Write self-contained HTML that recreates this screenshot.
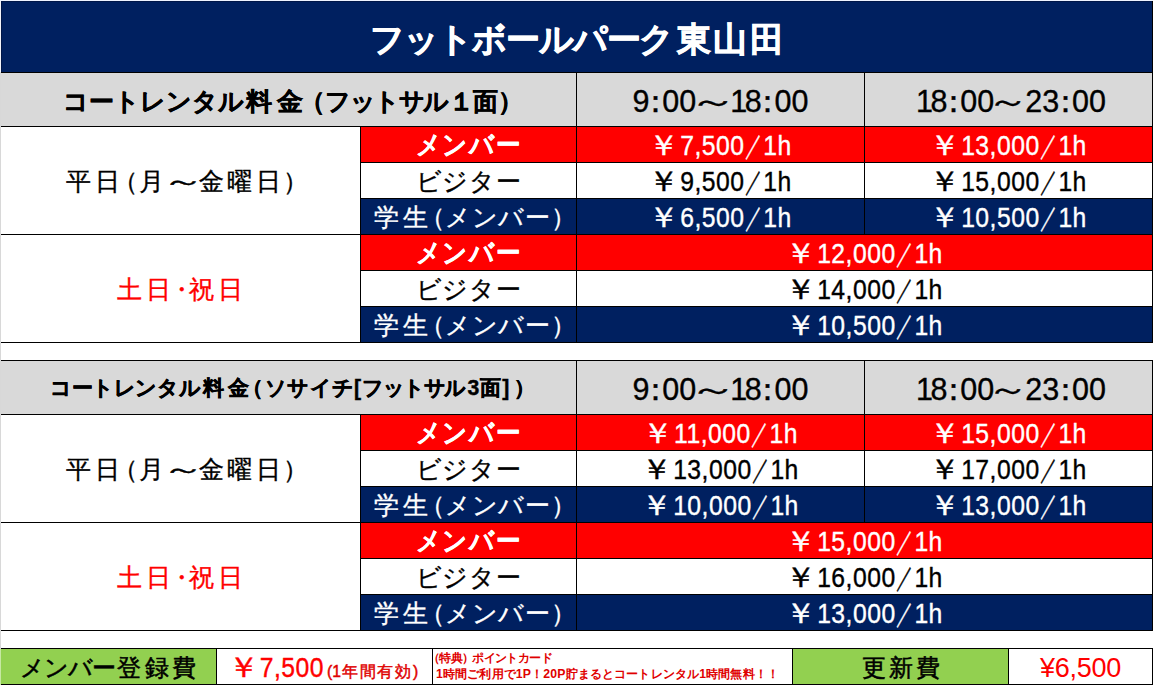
<!DOCTYPE html>
<html lang="ja">
<head>
<meta charset="utf-8">
<title>フットボールパーク東山田 料金表</title>
<style>
html,body{margin:0;padding:0}
body{width:1153px;height:685px;overflow:hidden;background:#fff;position:relative;
 font-family:"Liberation Sans",sans-serif;}
.grid{position:absolute;background:#000}
.gl{position:absolute;left:0;top:0;width:1px;height:685px;background:linear-gradient(#f4f4fa 0,#f4f4fa 72px,#d8d8d8 72px,#d8d8d8 649px,#c6e8a2 649px)}
.tl{position:absolute;left:0;top:0;width:1153px;height:1px;background:#eef3ff}
.c{position:absolute;box-sizing:border-box;overflow:hidden;white-space:nowrap}
.t{display:flex;align-items:center;justify-content:center;font-size:24.7px;line-height:1}
.x{display:block;position:relative}
.x span{display:inline-block}
.title{font-size:33.8px;font-weight:bold;border-top:1px solid #001648;border-left:1px solid #001648}
.head1{font-weight:bold}
.head2{font-weight:bold;font-size:21.2px}
.b{font-weight:bold}
.time{font-size:30.5px}
.foot{font-size:24.4px}
.fee .sm{font-size:15.7px;color:#e00000;position:relative}
.fee2{font-size:27px}
.note{font-size:12.25px;font-weight:bold;line-height:16px;padding:.5px 0 0 3px}
.po{margin-left:-11px}
.pc{margin-right:-11px}
.t>.x{-webkit-text-stroke:.35px}
.title>.x{left:0px;top:3px;-webkit-text-stroke:.7px}
.title .a{letter-spacing:-1.1px}
.title .k{letter-spacing:2.4px;margin-left:3.6px;margin-right:-2.4px}
.head1>.x{left:-1.5px;top:2.5px;-webkit-text-stroke:.45px}
.head1 .a{letter-spacing:0px}
.head1 .k{letter-spacing:5px;margin-left:3.2px;transform:scaleX(1.04)}
.head1 .po{margin-left:-6.7px}
.head1 .a3{letter-spacing:-1.5px}
.head1 .n{margin:0 -3px 0 1px}
.head1 .k2{margin:0 -1px 0 2px}
.head1 .pc{margin-left:1px}
.head2>.x{left:-1.4px;top:0.5px;-webkit-text-stroke:.45px}
.head2 .a{letter-spacing:-.4px}
.head2 .a2{letter-spacing:.2px;margin-left:2px}
.head2 .a3{letter-spacing:-1.5px}
.head2 .k{letter-spacing:4px;margin-left:3px}
.head2 .k2{margin:0 1px}
.head2 .br{margin-right:1.2px}
.head2 .n{margin-left:2.8px}
.head2 .pc{margin-left:3.6px}
.time>.x{left:0;top:2px;letter-spacing:0px}
.time .co{margin:0 -8.8px 0 -9.3px}
.time .o{margin:0 -2.5px 0 -1px}
.time .w{transform:scaleX(1.55);margin:0 2px}
.time2>.x{left:3px}
.time2 .w{margin-left:-2px;transform:scaleX(1.35)}
.day>.x{left:.5px;top:2px}
.day .k{letter-spacing:3.8px;margin-left:1.5px}
.day .w{transform:scaleX(1.7);margin:0 1px 0 3px}
.day .pc{margin-left:-1.5px}
.day .dot{margin:0 -6px}
.lab>.x{left:0;top:1.5px}
.lab3>.x{left:1px}
.lab.b>.x{-webkit-text-stroke:.1px}
.lab .a{letter-spacing:.6px}
.lab.b .a{transform:scaleY(1.1);position:relative;top:-1px}
.lab .k{letter-spacing:3.3px}
.pr>.x{left:1px;top:1.5px;transform:scaleY(1.13);letter-spacing:.5px}
.y{transform:scaleX(1.25);margin-right:3.5px}
.sl{transform:scaleX(.7);margin:0 -3.4px}
.foot>.x{left:1.3px;top:1.5px;-webkit-text-stroke:.5px}
.foot .a{letter-spacing:-1px}
.foot .k{letter-spacing:3.2px;margin-left:2px}
.fee>.x{left:0;top:1.5px}
.fee .big{transform:scaleY(1.13);letter-spacing:.5px;position:relative;top:.7px}
.fee .sm{top:1px;margin-left:3px;-webkit-text-stroke:.45px}
.fee .sm .k{letter-spacing:1.8px;margin-left:1px}
.fee2>.x{left:0;top:2px;letter-spacing:-.3px;-webkit-text-stroke:0}
.note .l1{letter-spacing:-.6px}
.note .p1{margin-left:-8px}
.note .p2{margin-right:-1.5px}
.note .l2{letter-spacing:.15px}
</style>
</head>
<body>
<div class="gl"></div>
<div class="tl"></div>
<div class="grid" style="left:1px;top:1px;width:1152px;height:342px"></div>
<div class="grid" style="left:1px;top:360px;width:1152px;height:271px"></div>
<div class="grid" style="left:1px;top:648px;width:1152px;height:37px"></div>
<div class="c t title" style="left:1px;top:1px;width:1151px;height:71px;background:#002060;color:#fff;"><div class="x"><span class="a">フットボールパーク</span><span class="k">東山田</span></div></div>
<div class="c t head1" style="left:1px;top:73px;width:575px;height:53px;background:#d9d9d9;color:#000;"><div class="x"><span class="a">コートレンタル</span><span class="k">料金</span><span class="po">（</span><span class="a3">フットサル</span><span class="n">１</span><span class="k2">面</span><span class="pc">）</span></div></div>
<div class="c t time" style="left:577px;top:73px;width:287px;height:53px;background:#d9d9d9;color:#000;"><div class="x">9<span class="co">：</span>00<span class="w">～</span><span class="o">1</span>8<span class="co">：</span>00</div></div>
<div class="c t time time2" style="left:865px;top:73px;width:287px;height:53px;background:#d9d9d9;color:#000;"><div class="x"><span class="o">1</span>8<span class="co">：</span>00<span class="w">～</span>23<span class="co">：</span>00</div></div>
<div class="c t day" style="left:1px;top:127px;width:359px;height:107px;background:#ffffff;color:#000;"><div class="x"><span class="k">平日</span><span class="po">（</span><span class="k">月</span><span class="w">～</span><span class="k">金曜日</span><span class="pc">）</span></div></div>
<div class="c t lab b" style="left:361px;top:127px;width:215px;height:35px;background:#ff0000;color:#fff;"><div class="x"><span class="a">メンバー</span></div></div>
<div class="c t pr" style="left:577px;top:127px;width:287px;height:35px;background:#ff0000;color:#fff;"><div class="x"><span class="y">￥</span>7,500<span class="sl">／</span>1h</div></div>
<div class="c t pr" style="left:865px;top:127px;width:287px;height:35px;background:#ff0000;color:#fff;"><div class="x"><span class="y">￥</span>13,000<span class="sl">／</span>1h</div></div>
<div class="c t lab" style="left:361px;top:163px;width:215px;height:35px;background:#ffffff;color:#000;"><div class="x"><span class="a">ビジター</span></div></div>
<div class="c t pr" style="left:577px;top:163px;width:287px;height:35px;background:#ffffff;color:#000;"><div class="x"><span class="y">￥</span>9,500<span class="sl">／</span>1h</div></div>
<div class="c t pr" style="left:865px;top:163px;width:287px;height:35px;background:#ffffff;color:#000;"><div class="x"><span class="y">￥</span>15,000<span class="sl">／</span>1h</div></div>
<div class="c t lab lab3" style="left:361px;top:199px;width:215px;height:35px;background:#002060;color:#fff;"><div class="x"><span class="k">学生</span><span class="po">（</span><span class="a">メンバー</span><span class="pc">）</span></div></div>
<div class="c t pr" style="left:577px;top:199px;width:287px;height:35px;background:#002060;color:#fff;"><div class="x"><span class="y">￥</span>6,500<span class="sl">／</span>1h</div></div>
<div class="c t pr" style="left:865px;top:199px;width:287px;height:35px;background:#002060;color:#fff;"><div class="x"><span class="y">￥</span>10,500<span class="sl">／</span>1h</div></div>
<div class="c t day" style="left:1px;top:235px;width:359px;height:107px;background:#ffffff;color:#ff0000;"><div class="x"><span class="k">土日</span><span class="dot">・</span><span class="k">祝日</span></div></div>
<div class="c t lab b" style="left:361px;top:235px;width:215px;height:35px;background:#ff0000;color:#fff;"><div class="x"><span class="a">メンバー</span></div></div>
<div class="c t pr" style="left:577px;top:235px;width:575px;height:35px;background:#ff0000;color:#fff;"><div class="x"><span class="y">￥</span>12,000<span class="sl">／</span>1h</div></div>
<div class="c t lab" style="left:361px;top:271px;width:215px;height:35px;background:#ffffff;color:#000;"><div class="x"><span class="a">ビジター</span></div></div>
<div class="c t pr" style="left:577px;top:271px;width:575px;height:35px;background:#ffffff;color:#000;"><div class="x"><span class="y">￥</span>14,000<span class="sl">／</span>1h</div></div>
<div class="c t lab lab3" style="left:361px;top:307px;width:215px;height:35px;background:#002060;color:#fff;"><div class="x"><span class="k">学生</span><span class="po">（</span><span class="a">メンバー</span><span class="pc">）</span></div></div>
<div class="c t pr" style="left:577px;top:307px;width:575px;height:35px;background:#002060;color:#fff;"><div class="x"><span class="y">￥</span>10,500<span class="sl">／</span>1h</div></div>
<div class="c t head2" style="left:1px;top:361px;width:575px;height:53px;background:#d9d9d9;color:#000;"><div class="x"><span class="a">コートレンタル</span><span class="k">料金</span><span class="po">（</span><span class="a2">ソサイチ</span><span class="br">[</span><span class="a3">フットサル</span><span class="n">3</span><span class="k2">面</span><span class="br">]</span><span class="pc">）</span></div></div>
<div class="c t time" style="left:577px;top:361px;width:287px;height:53px;background:#d9d9d9;color:#000;"><div class="x">9<span class="co">：</span>00<span class="w">～</span><span class="o">1</span>8<span class="co">：</span>00</div></div>
<div class="c t time time2" style="left:865px;top:361px;width:287px;height:53px;background:#d9d9d9;color:#000;"><div class="x"><span class="o">1</span>8<span class="co">：</span>00<span class="w">～</span>23<span class="co">：</span>00</div></div>
<div class="c t day" style="left:1px;top:415px;width:359px;height:107px;background:#ffffff;color:#000;"><div class="x"><span class="k">平日</span><span class="po">（</span><span class="k">月</span><span class="w">～</span><span class="k">金曜日</span><span class="pc">）</span></div></div>
<div class="c t lab b" style="left:361px;top:415px;width:215px;height:35px;background:#ff0000;color:#fff;"><div class="x"><span class="a">メンバー</span></div></div>
<div class="c t pr" style="left:577px;top:415px;width:287px;height:35px;background:#ff0000;color:#fff;"><div class="x"><span class="y">￥</span>11,000<span class="sl">／</span>1h</div></div>
<div class="c t pr" style="left:865px;top:415px;width:287px;height:35px;background:#ff0000;color:#fff;"><div class="x"><span class="y">￥</span>15,000<span class="sl">／</span>1h</div></div>
<div class="c t lab" style="left:361px;top:451px;width:215px;height:35px;background:#ffffff;color:#000;"><div class="x"><span class="a">ビジター</span></div></div>
<div class="c t pr" style="left:577px;top:451px;width:287px;height:35px;background:#ffffff;color:#000;"><div class="x"><span class="y">￥</span>13,000<span class="sl">／</span>1h</div></div>
<div class="c t pr" style="left:865px;top:451px;width:287px;height:35px;background:#ffffff;color:#000;"><div class="x"><span class="y">￥</span>17,000<span class="sl">／</span>1h</div></div>
<div class="c t lab lab3" style="left:361px;top:487px;width:215px;height:35px;background:#002060;color:#fff;"><div class="x"><span class="k">学生</span><span class="po">（</span><span class="a">メンバー</span><span class="pc">）</span></div></div>
<div class="c t pr" style="left:577px;top:487px;width:287px;height:35px;background:#002060;color:#fff;"><div class="x"><span class="y">￥</span>10,000<span class="sl">／</span>1h</div></div>
<div class="c t pr" style="left:865px;top:487px;width:287px;height:35px;background:#002060;color:#fff;"><div class="x"><span class="y">￥</span>13,000<span class="sl">／</span>1h</div></div>
<div class="c t day" style="left:1px;top:523px;width:359px;height:107px;background:#ffffff;color:#ff0000;"><div class="x"><span class="k">土日</span><span class="dot">・</span><span class="k">祝日</span></div></div>
<div class="c t lab b" style="left:361px;top:523px;width:215px;height:35px;background:#ff0000;color:#fff;"><div class="x"><span class="a">メンバー</span></div></div>
<div class="c t pr" style="left:577px;top:523px;width:575px;height:35px;background:#ff0000;color:#fff;"><div class="x"><span class="y">￥</span>15,000<span class="sl">／</span>1h</div></div>
<div class="c t lab" style="left:361px;top:559px;width:215px;height:35px;background:#ffffff;color:#000;"><div class="x"><span class="a">ビジター</span></div></div>
<div class="c t pr" style="left:577px;top:559px;width:575px;height:35px;background:#ffffff;color:#000;"><div class="x"><span class="y">￥</span>16,000<span class="sl">／</span>1h</div></div>
<div class="c t lab lab3" style="left:361px;top:595px;width:215px;height:35px;background:#002060;color:#fff;"><div class="x"><span class="k">学生</span><span class="po">（</span><span class="a">メンバー</span><span class="pc">）</span></div></div>
<div class="c t pr" style="left:577px;top:595px;width:575px;height:35px;background:#002060;color:#fff;"><div class="x"><span class="y">￥</span>13,000<span class="sl">／</span>1h</div></div>
<div class="c t foot" style="left:1px;top:649px;width:215px;height:35px;background:#92d050;color:#000;"><div class="x"><span class="a">メンバー</span><span class="k">登録費</span></div></div>
<div class="c t fee" style="left:217px;top:649px;width:215px;height:35px;background:#ffffff;color:#ff0000;"><div class="x"><span class="big"><span class="y">￥</span>7,500</span><span class="sm">(1<span class="k">年間有効</span>)</span></div></div>
<div class="c note" style="left:433px;top:649px;width:359px;height:35px;background:#ffffff;color:#e00000;"><div class="l1"><span class="p1">（</span>特典<span class="p2">）</span>ポイントカード</div><div class="l2">1時間ご利用で1P！20P貯まるとコートレンタル1時間無料！！</div></div>
<div class="c t foot" style="left:793px;top:649px;width:215px;height:35px;background:#92d050;color:#000;"><div class="x"><span class="k">更新費</span></div></div>
<div class="c t fee2" style="left:1009px;top:649px;width:143px;height:35px;background:#ffffff;color:#ff0000;"><div class="x">¥6,500</div></div>
</body>
</html>
